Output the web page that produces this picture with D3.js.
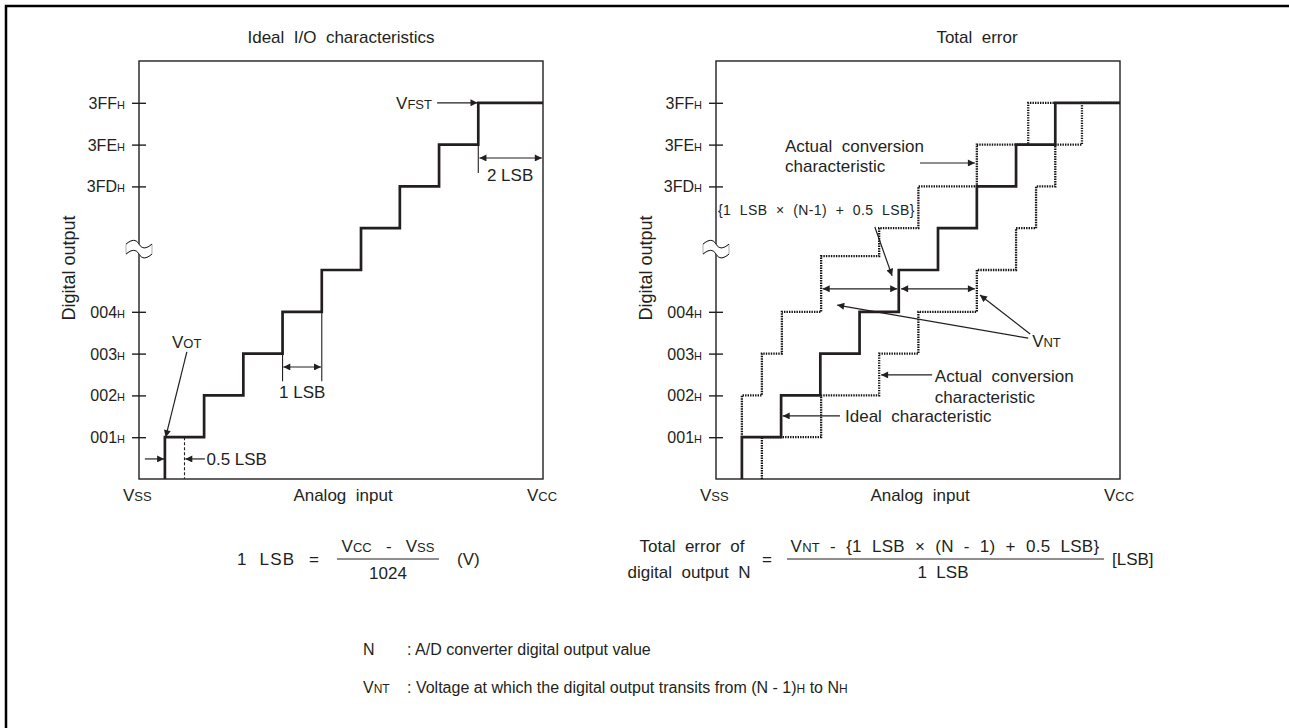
<!DOCTYPE html>
<html><head><meta charset="utf-8">
<script src="https://cdn.jsdelivr.net/npm/d3@7"></script>
<style>
html,body{margin:0;padding:0;background:#fff;}
svg text{font-family:"Liberation Sans",Arial,Helvetica,sans-serif;fill:#231f20;white-space:pre;}
</style></head>
<body>
<svg id="c" width="1289" height="728"></svg>
<script>
// ---------- data ----------
const yTickValues = [1, 2, 3, 4, 7, 8, 9];
const yTickLabels = ["001", "002", "003", "004", "3FD", "3FE", "3FF"];
const idealTransitions = [0.66, 1.66, 2.66, 3.66, 4.66, 5.66, 6.65, 7.65, 8.65];
const idealLevels      = [1, 2, 3, 4, 5, 6, 7, 8, 9];
const upperTransitions = [0.66, 1.17, 1.68, 2.68, 4.16, 5.16, 6.65, 7.96];
const upperLevels      = [2, 3, 4, 5.33, 6, 7, 8, 9];
const lowerTransitions = [1.17, 2.68, 4.16, 5.16, 6.65, 7.65, 8.16, 8.65, 9.33];
const lowerLevels      = [1, 2, 3, 4, 5, 6, 7, 8, 9];
const xMax = 10.3, yMax = 10, breakLevel = 5.5;

const svg = d3.select("#c");
const ink = "#231f20";

const defs = svg.append("defs");
defs.append("marker").attr("id","ah").attr("viewBox","0 0 10 10").attr("refX",10).attr("refY",5)
  .attr("markerWidth",8).attr("markerHeight",7).attr("markerUnits","userSpaceOnUse").attr("orient","auto-start-reverse")
  .append("path").attr("d","M0,0 L10,5 L0,10 Z").attr("fill",ink);

// frame
svg.append("path").attr("d","M6,728 L6,6 L1289,6").attr("fill","none").attr("stroke","#000").attr("stroke-width",2.5);

function rich(sel, parts){
  parts.forEach(p=>sel.append("tspan").attr("font-size",p[1]).text(p[0]));
  return sel;
}

function stepPath(x, y, startX, startLevel, trans, levels, endX){
  const pts = [[x(startX), y(startLevel)]];
  let cur = startLevel;
  trans.forEach((t,i)=>{ pts.push([x(t), y(cur)]); pts.push([x(t), y(levels[i])]); cur = levels[i]; });
  pts.push([x(endX), y(cur)]);
  return d3.line()(pts);
}

function panel(ox, title, titleX){
  const W = 404, H = 418;
  const g = svg.append("g").attr("transform",`translate(${ox},61)`);
  const x = d3.scaleLinear().domain([0,xMax]).range([0,W]);
  const y = d3.scaleLinear().domain([0,yMax]).range([H,0]);
  g.append("rect").attr("width",W).attr("height",H).attr("fill","none").attr("stroke",ink).attr("stroke-width",1.4);
  const ax = d3.axisLeft(y).tickValues(yTickValues).tickSizeInner(-7).tickSizeOuter(0).tickFormat("");
  const axg = g.append("g").call(ax);
  axg.select(".domain").remove();
  axg.selectAll(".tick line").attr("x1",-7).attr("x2",7).attr("stroke",ink).attr("stroke-width",1.4);
  yTickValues.forEach((v,i)=>{
    rich(g.append("text").attr("x",-14).attr("y",y(v)+6).attr("text-anchor","end"),
      [[yTickLabels[i],16],["H",11]]);
  });
  // break symbol
  const by = y(breakLevel);
  const wave = (yy)=>`C-7,${yy-5} -3,${yy-5} 0,${yy} S7,${yy+5} 13,${yy}`;
  g.append("path").attr("d",`M-13,${by-5} ${wave(by-5)} L13,${by+5} C7,${by+10} 3,${by+10} 0,${by+5} S-7,${by} -13,${by+5} Z`)
    .attr("fill","#fff").attr("stroke","#999").attr("stroke-width",0.8);
  g.append("path").attr("d",`M-13,${by-5} ${wave(by-5)}`).attr("fill","none").attr("stroke",ink).attr("stroke-width",1);
  g.append("path").attr("d",`M-13,${by+5} ${wave(by+5)}`).attr("fill","none").attr("stroke",ink).attr("stroke-width",1);
  svg.append("text").attr("x",titleX).attr("y",43).attr("text-anchor","middle").attr("font-size",17).text(title);
  rich(g.append("text").attr("x",-16).attr("y",H+22), [["V",17],["SS",13]]);
  g.append("text").attr("x",W/2+2).attr("y",H+22).attr("text-anchor","middle").attr("font-size",17).text("Analog  input");
  rich(g.append("text").attr("x",W-16).attr("y",H+22), [["V",17],["CC",13]]);
  g.append("text").attr("transform",`translate(${-64},${207}) rotate(-90)`).attr("text-anchor","middle").attr("font-size",18).text("Digital output");
  return {g,x,y};
}

function arrow(g, x1,y1,x2,y2, both){
  const l = g.append("line").attr("x1",x1).attr("y1",y1).attr("x2",x2).attr("y2",y2)
    .attr("stroke",ink).attr("stroke-width",1.2).attr("marker-end","url(#ah)");
  if(both) l.attr("marker-start","url(#ah)");
  return l;
}
function vline(g,xx,y1,y2,dash){
  const l = g.append("line").attr("x1",xx).attr("x2",xx).attr("y1",y1).attr("y2",y2).attr("stroke",ink).attr("stroke-width",1.1);
  if(dash) l.attr("stroke-dasharray",dash);
}

// ---------- left panel ----------
{
  const {g,x,y} = panel(139, "Ideal  I/O  characteristics", 341);
  g.append("path").attr("d",stepPath(x,y,idealTransitions[0],0,idealTransitions,idealLevels,xMax))
    .attr("fill","none").attr("stroke",ink).attr("stroke-width",2.7);
  rich(g.append("text").attr("x",x(0.84)).attr("y",y(3.13)), [["V",17],["OT",13]]);
  arrow(g, x(1.22), y(3.04), x(0.68), y(1.0));
  vline(g, x(1.16), y(1), y(0), "3,2");
  arrow(g, x(0.15), y(0.48), x(0.64), y(0.48));
  arrow(g, x(1.68), y(0.48), x(1.18), y(0.48));
  g.append("text").attr("x",x(1.72)).attr("y",y(0.33)).attr("font-size",17).text("0.5 LSB");
  vline(g, x(3.66), y(4), y(2.34));
  vline(g, x(4.66), y(4), y(2.34));
  arrow(g, x(3.68), y(2.68), x(4.64), y(2.68), true);
  g.append("text").attr("x",x(4.16)).attr("y",y(1.94)).attr("text-anchor","middle").attr("font-size",17).text("1 LSB");
  rich(g.append("text").attr("x",x(7.47)).attr("y",y(8.85)).attr("text-anchor","end"), [["V",17],["FST",13]]);
  arrow(g, x(7.6), y(9), x(8.63), y(9));
  vline(g, x(8.65), y(9), y(7.32));
  arrow(g, x(8.68), y(7.68), x(10.27), y(7.68), true);
  g.append("text").attr("x",x(8.87)).attr("y",y(7.13)).attr("font-size",17).text("2 LSB");
}

// ---------- right panel ----------
{
  const {g,x,y} = panel(716, "Total  error", 977);
  const dotted = (d)=> g.append("path").attr("d",d).attr("fill","none").attr("stroke","#111")
      .attr("stroke-width",2.3).attr("stroke-dasharray","1.4,1.1");
  dotted(stepPath(x,y,upperTransitions[0],1,upperTransitions,upperLevels,8.65));
  dotted(stepPath(x,y,lowerTransitions[0],0,lowerTransitions,lowerLevels,xMax));
  g.append("path").attr("d",stepPath(x,y,idealTransitions[0],0,idealTransitions,idealLevels,xMax))
    .attr("fill","none").attr("stroke",ink).attr("stroke-width",2.7);

  g.append("text").attr("x",x(1.76)).attr("y",y(7.82)).attr("font-size",17).text("Actual  conversion");
  g.append("text").attr("x",x(1.76)).attr("y",y(7.34)).attr("font-size",17).text("characteristic");
  arrow(g, x(5.2), y(7.56), x(6.6), y(7.56));

  g.append("text").attr("x",x(0.05)).attr("y",y(6.32)).attr("font-size",14).attr("letter-spacing",0.4)
    .text("{1  LSB  \u00d7  (N-1)  +  0.5  LSB}");
  arrow(g, x(4.05), y(6.03), x(4.49), y(4.86));

  arrow(g, x(2.72), y(4.55), x(4.62), y(4.55), true);
  arrow(g, x(4.72), y(4.55), x(6.6), y(4.55), true);

  rich(g.append("text").attr("x",x(8.06)).attr("y",y(3.16)), [["V",17],["NT",13]]);
  arrow(g, x(7.96), y(3.37), x(3.09), y(4.16));
  arrow(g, x(8.01), y(3.47), x(6.73), y(4.40));

  g.append("text").attr("x",x(5.58)).attr("y",y(2.32)).attr("font-size",17).text("Actual  conversion");
  g.append("text").attr("x",x(5.58)).attr("y",y(1.82)).attr("font-size",17).text("characteristic");
  arrow(g, x(5.51), y(2.49), x(4.21), y(2.49));

  g.append("text").attr("x",x(3.29)).attr("y",y(1.36)).attr("font-size",17).text("Ideal  characteristic");
  arrow(g, x(3.16), y(1.51), x(1.70), y(1.51));
}

// ---------- formulas ----------
svg.append("text").attr("x",237).attr("y",565).attr("font-size",17).attr("letter-spacing",1.2).text("1  LSB");
svg.append("text").attr("x",309).attr("y",565).attr("font-size",17).text("=");
rich(svg.append("text").attr("x",388).attr("y",552).attr("text-anchor","middle"),
  [["V",17],["CC",13],["   -   ",17],["V",17],["SS",13]]);
svg.append("line").attr("x1",337).attr("x2",439).attr("y1",559).attr("y2",559).attr("stroke",ink).attr("stroke-width",1.2);
svg.append("text").attr("x",388).attr("y",579).attr("text-anchor","middle").attr("font-size",17).text("1024");
svg.append("text").attr("x",457).attr("y",565).attr("font-size",17).text("(V)");

svg.append("text").attr("x",692).attr("y",552).attr("text-anchor","middle").attr("font-size",17).text("Total  error  of");
svg.append("text").attr("x",689).attr("y",578).attr("text-anchor","middle").attr("font-size",17).text("digital  output  N");
svg.append("text").attr("x",762).attr("y",565).attr("font-size",17).text("=");
rich(svg.append("text").attr("x",945).attr("y",552).attr("text-anchor","middle").attr("letter-spacing",0.3),
  [["V",17],["NT",13],["  -  {1  LSB  \u00d7  (N  -  1)  +  0.5  LSB}",17]]);
svg.append("line").attr("x1",787).attr("x2",1104).attr("y1",559).attr("y2",559).attr("stroke",ink).attr("stroke-width",1.2);
svg.append("text").attr("x",943).attr("y",578).attr("text-anchor","middle").attr("font-size",17).text("1  LSB");
svg.append("text").attr("x",1112).attr("y",565).attr("font-size",17).text("[LSB]");

// ---------- notes ----------
svg.append("text").attr("x",363).attr("y",655).attr("font-size",16).text("N");
svg.append("text").attr("x",407).attr("y",655).attr("font-size",16).text(": A/D converter digital output value");
rich(svg.append("text").attr("x",363).attr("y",693), [["V",16],["NT",12]]);
rich(svg.append("text").attr("x",407).attr("y",693),
  [[": Voltage at which the digital output transits from (N - 1)",16],["H",12],[" to N",16],["H",12]]);
</script>
</body></html>
